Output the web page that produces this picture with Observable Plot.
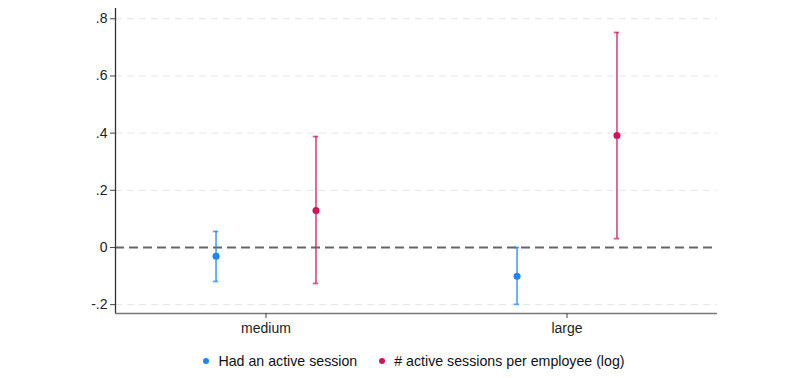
<!DOCTYPE html>
<html>
<head>
<meta charset="utf-8">
<script src="https://cdn.jsdelivr.net/npm/d3@7"></script>
<script src="https://cdn.jsdelivr.net/npm/@observablehq/plot@0.6"></script>
<style>
  html, body { margin: 0; padding: 0; background: #fff; }
  body { width: 798px; font-family: "Liberation Sans", Arial, sans-serif; }
  #legend { display: flex; justify-content: center; align-items: center; gap: 22px; font-size: 14.2px; color: #111; margin-top: 13px; padding-left: 30px; }
  #legend span.item { display: flex; align-items: center; }
  #legend span.sw { width: 6px; height: 6px; border-radius: 50%; display: inline-block; margin-right: 9px; }
</style>
</head>
<body>
<div id="chart"></div>
<div id="legend"></div>
<script>
const groups = ["medium", "large"];
const seriesNames = ["Had an active session", "# active sessions per employee (log)"];
const seriesColors = ["#1a85ff", "#d41159"];

const activeEst = [-0.031, -0.101];
const activeLo  = [-0.119, -0.199];
const activeHi  = [0.056, 0.000];

const sessionsEst = [0.129, 0.392];
const sessionsLo  = [-0.126, 0.031];
const sessionsHi  = [0.388, 0.752];

const yTicks = [-0.2, 0, 0.2, 0.4, 0.6, 0.8];
const yTickLabels = ["-.2", "0", ".2", ".4", ".6", ".8"];

const dodge = [-0.166, 0.166];
const rows = [];
groups.forEach((g, i) => {
  rows.push({group: g, gi: i + 1, s: 0, x: i + 1 + dodge[0], est: activeEst[i], lo: activeLo[i], hi: activeHi[i]});
  rows.push({group: g, gi: i + 1, s: 1, x: i + 1 + dodge[1], est: sessionsEst[i], lo: sessionsLo[i], hi: sessionsHi[i]});
});
const capW = 0.009;
const fmt = d => yTickLabels[yTicks.findIndex(t => Math.abs(t - d) < 1e-9)];

const chart = Plot.plot({
  width: 798,
  height: 340,
  marginLeft: 115,
  marginRight: 81,
  marginTop: 8,
  marginBottom: 27,
  style: {fontFamily: "Liberation Sans, Arial, sans-serif", fontSize: "14px", color: "#222"},
  x: {domain: [0.5, 2.5]},
  y: {domain: [-0.231, 0.836]},
  marks: [
    Plot.ruleY(yTicks.filter(d => d !== 0), {stroke: "#e4e4e4", strokeDasharray: "7,5", strokeWidth: 1}),
    Plot.ruleY([0], {stroke: "#666", strokeWidth: 2, strokeDasharray: "9,5"}),
    Plot.ruleX(rows, {x: "x", y1: "lo", y2: "hi", stroke: d => seriesColors[d.s], strokeWidth: 1.8, strokeOpacity: 0.7}),
    Plot.ruleY(rows, {y: "lo", x1: d => d.x - capW, x2: d => d.x + capW, stroke: d => seriesColors[d.s], strokeWidth: 1.8, strokeOpacity: 0.7}),
    Plot.ruleY(rows, {y: "hi", x1: d => d.x - capW, x2: d => d.x + capW, stroke: d => seriesColors[d.s], strokeWidth: 1.8, strokeOpacity: 0.7}),
    Plot.dot(rows, {x: "x", y: "est", r: 3.5, fill: d => seriesColors[d.s], stroke: "none"}),
    Plot.ruleX([0.5], {stroke: "#333", strokeWidth: 1.3}),
    Plot.ruleY([-0.231], {stroke: "#777", strokeWidth: 1.6}),
    Plot.axisY({ticks: yTicks, tickFormat: fmt, tickSize: 5, tickPadding: 3, stroke: "#444", label: null, fill: "#222"}),
    Plot.axisX({ticks: [1, 2], tickFormat: d => groups[d - 1], tickSize: 5, tickPadding: 5, stroke: "#444", label: null, fill: "#222"})
  ]
});
document.getElementById("chart").appendChild(chart);

const legend = document.getElementById("legend");
seriesNames.forEach((name, i) => {
  const item = document.createElement("span");
  item.className = "item";
  const sw = document.createElement("span");
  sw.className = "sw";
  sw.style.background = seriesColors[i];
  item.appendChild(sw);
  item.appendChild(document.createTextNode(name));
  legend.appendChild(item);
});
</script>
</body>
</html>
